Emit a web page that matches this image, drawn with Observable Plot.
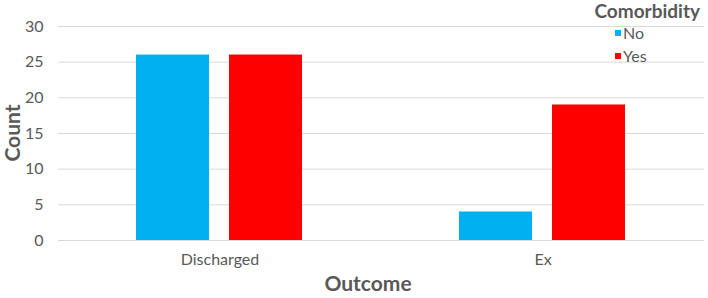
<!DOCTYPE html>
<html>
<head>
<meta charset="utf-8">
<script src="https://cdn.jsdelivr.net/npm/d3@7"></script>
<script src="https://cdn.jsdelivr.net/npm/@observablehq/plot@0.6"></script>
<style>
  html, body { margin: 0; padding: 0; background: #fff; }
  #wrap { position: relative; width: 708px; height: 298px; font-family: Lato, "Open Sans", sans-serif; color: #595959; }
  .lbl { position: absolute; font-weight: bold; font-size: 21px; line-height: 24px; color: #595959; white-space: nowrap; }
  #legend { position: absolute; left: 612px; top: 27px; width: 96px; height: 32px; background: #fff; }
  .ltitle { position: absolute; right: 8px; top: 2px; font-weight: bold; font-size: 19px; line-height: 18px; color: #595959; white-space: nowrap; }
  .litem { position: absolute; font-size: 16px; line-height: 16px; color: #595959; white-space: nowrap; }
  .sw { position: absolute; width: 6px; height: 6px; }
</style>
</head>
<body>
<div id="wrap"></div>
<script>
const outcomes = ["Discharged", "Ex"];
const comorbidities = ["No", "Yes"];
const countsNo = [26, 4];
const countsYes = [26, 19];
const yTicks = [0, 5, 10, 15, 20, 25, 30];
const colors = ["#00B0F0", "#FF0000"];

const data = [];
outcomes.forEach((o, i) => {
  data.push({outcome: o, comorbidity: "No", count: countsNo[i]});
  data.push({outcome: o, comorbidity: "Yes", count: countsYes[i]});
});

const chart = Plot.plot({
  width: 708,
  height: 298,
  marginTop: 26,
  marginBottom: 58,
  marginLeft: 57,
  marginRight: 4,
  style: {fontFamily: "Lato, 'Open Sans', sans-serif", fontSize: "16px", color: "#595959", background: "#fff"},
  fx: {domain: outcomes, padding: 0, label: null},
  x: {domain: comorbidities, paddingInner: 0.215, paddingOuter: 0.844, axis: null},
  y: {domain: [0, 30], ticks: yTicks, label: null},
  color: {domain: comorbidities, range: colors},
  marks: [
    Plot.gridY(yTicks, {stroke: "#d9d9d9", strokeOpacity: 1, strokeWidth: 1}),
    Plot.axisY(yTicks, {tickSize: 0, tickPadding: 15, label: null, fill: "#595959", fontSize: 16}),
    Plot.axisFx({anchor: "bottom", tickSize: 0, tickPadding: 13, label: null, fill: "#595959", fontSize: 16}),
    Plot.barY(data, {fx: "outcome", x: "comorbidity", y: "count", fill: "comorbidity"})
  ]
});

const wrap = document.getElementById("wrap");
wrap.appendChild(chart);

const xl = document.createElement("div");
xl.className = "lbl";
xl.textContent = "Outcome";
xl.style.left = "368px"; xl.style.top = "271px"; xl.style.transform = "translateX(-50%)";
wrap.appendChild(xl);

const yl = document.createElement("div");
yl.className = "lbl";
yl.textContent = "Count";
yl.style.left = "12px"; yl.style.top = "133px";
yl.style.transform = "translate(-50%, -50%) rotate(-90deg)";
wrap.appendChild(yl);

// legend
const lg = document.createElement("div");
lg.id = "legend";
wrap.appendChild(lg);
const lt = document.createElement("div");
lt.className = "ltitle";
lt.textContent = "Comorbidity";
wrap.appendChild(lt);
comorbidities.forEach((c, i) => {
  const cy = 33 + i * 22.5;
  const sw = document.createElement("div");
  sw.className = "sw";
  sw.style.background = colors[i];
  sw.style.left = "615px"; sw.style.top = (cy - 3) + "px";
  wrap.appendChild(sw);
  const t = document.createElement("div");
  t.className = "litem";
  t.textContent = c;
  t.style.left = "623px"; t.style.top = (cy - 8) + "px";
  wrap.appendChild(t);
});
</script>
</body>
</html>
